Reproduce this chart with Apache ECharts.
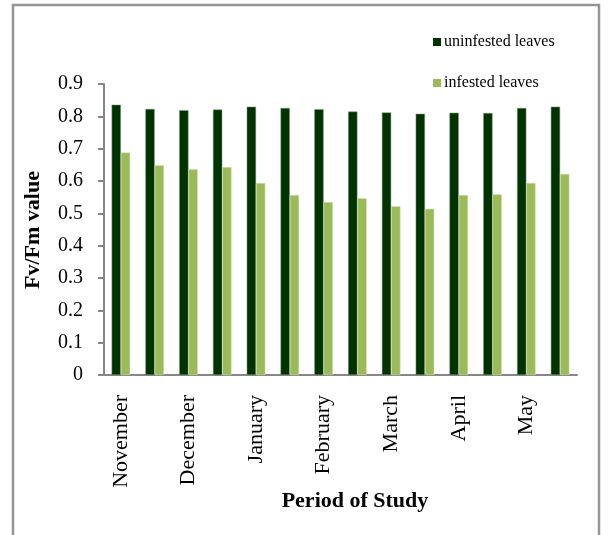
<!DOCTYPE html>
<html>
<head>
<meta charset="utf-8">
<script src="https://cdn.jsdelivr.net/npm/echarts@6/dist/echarts.min.js"></script>
<style>
  html, body { margin: 0; padding: 0; background: #fff; }
  #chart { width: 612px; height: 535px; }
</style>
</head>
<body>
<div id="chart"></div>
<script>
// two readings per month
var months = ["November", "December", "January", "February", "March", "April", "May"];
var categories = [];
months.forEach(function (m) { categories.push(m, m); });

var uninfested = [0.836, 0.823, 0.819, 0.821, 0.830, 0.826, 0.822,
                  0.815, 0.812, 0.808, 0.811, 0.810, 0.826, 0.830];
var infested = [0.688, 0.649, 0.636, 0.643, 0.594, 0.557, 0.535,
                0.547, 0.522, 0.514, 0.557, 0.559, 0.594, 0.622];

var serif = "'Liberation Serif', 'Times New Roman', serif";
var axisGrey = "#868686";

var chart = echarts.init(document.getElementById("chart"));
chart.setOption({
  animation: false,
  textStyle: { fontFamily: serif },
  grid: { left: 104, right: 35, top: 84, bottom: 160, containLabel: false },
  legend: {
    orient: "vertical",
    left: 428,
    top: 29,
    itemGap: 25,
    itemWidth: 8,
    itemHeight: 8,
    icon: "rect",
    itemStyle: { borderWidth: 0 },
    textStyle: { fontFamily: serif, fontSize: 16, color: "#000", padding: [0, 0, 0, -2] },
    data: ["uninfested leaves", "infested leaves"]
  },
  xAxis: {
    type: "category",
    data: categories,
    axisLine: { lineStyle: { color: axisGrey, width: 2 } },
    axisTick: { interval: 0, length: 6, lineStyle: { color: axisGrey, width: 2 } },
    axisLabel: {
      interval: 1,
      rotate: 90,
      margin: 20,
      fontFamily: serif,
      fontSize: 22,
      color: "#000"
    },
    splitLine: { show: false }
  },
  yAxis: {
    type: "value",
    min: 0,
    max: 0.9,
    interval: 0.1,
    axisLine: { show: true, lineStyle: { color: axisGrey, width: 2 } },
    axisTick: { show: true, length: 6, lineStyle: { color: axisGrey, width: 2 } },
    axisLabel: { fontFamily: serif, fontSize: 20, color: "#000", margin: 21 },
    splitLine: { show: false }
  },
  series: [
    {
      name: "uninfested leaves",
      type: "bar",
      data: uninfested,
      barGap: "0%",
      barCategoryGap: "45%",
      itemStyle: { color: "#003300", borderColor: "#7f9a7f", borderWidth: 0.5 }
    },
    {
      name: "infested leaves",
      type: "bar",
      data: infested,
      itemStyle: { color: "#9bbb59", borderColor: "#d6e4bc", borderWidth: 0.5 }
    }
  ],
  graphic: [
    {
      type: "rect",
      shape: { x: 13, y: 5, width: 586, height: 540 },
      style: { fill: null, stroke: "#959595", lineWidth: 2.5 },
      silent: true
    },
    {
      type: "text",
      x: 33,
      y: 230,
      rotation: Math.PI / 2,
      style: {
        text: "Fv/Fm value",
        font: "bold 22px " + serif,
        fill: "#000",
        align: "center",
        verticalAlign: "middle"
      }
    },
    {
      type: "text",
      x: 355,
      y: 501,
      style: {
        text: "Period of Study",
        font: "bold 22px " + serif,
        fill: "#000",
        align: "center",
        verticalAlign: "middle"
      }
    }
  ]
});
</script>
</body>
</html>
